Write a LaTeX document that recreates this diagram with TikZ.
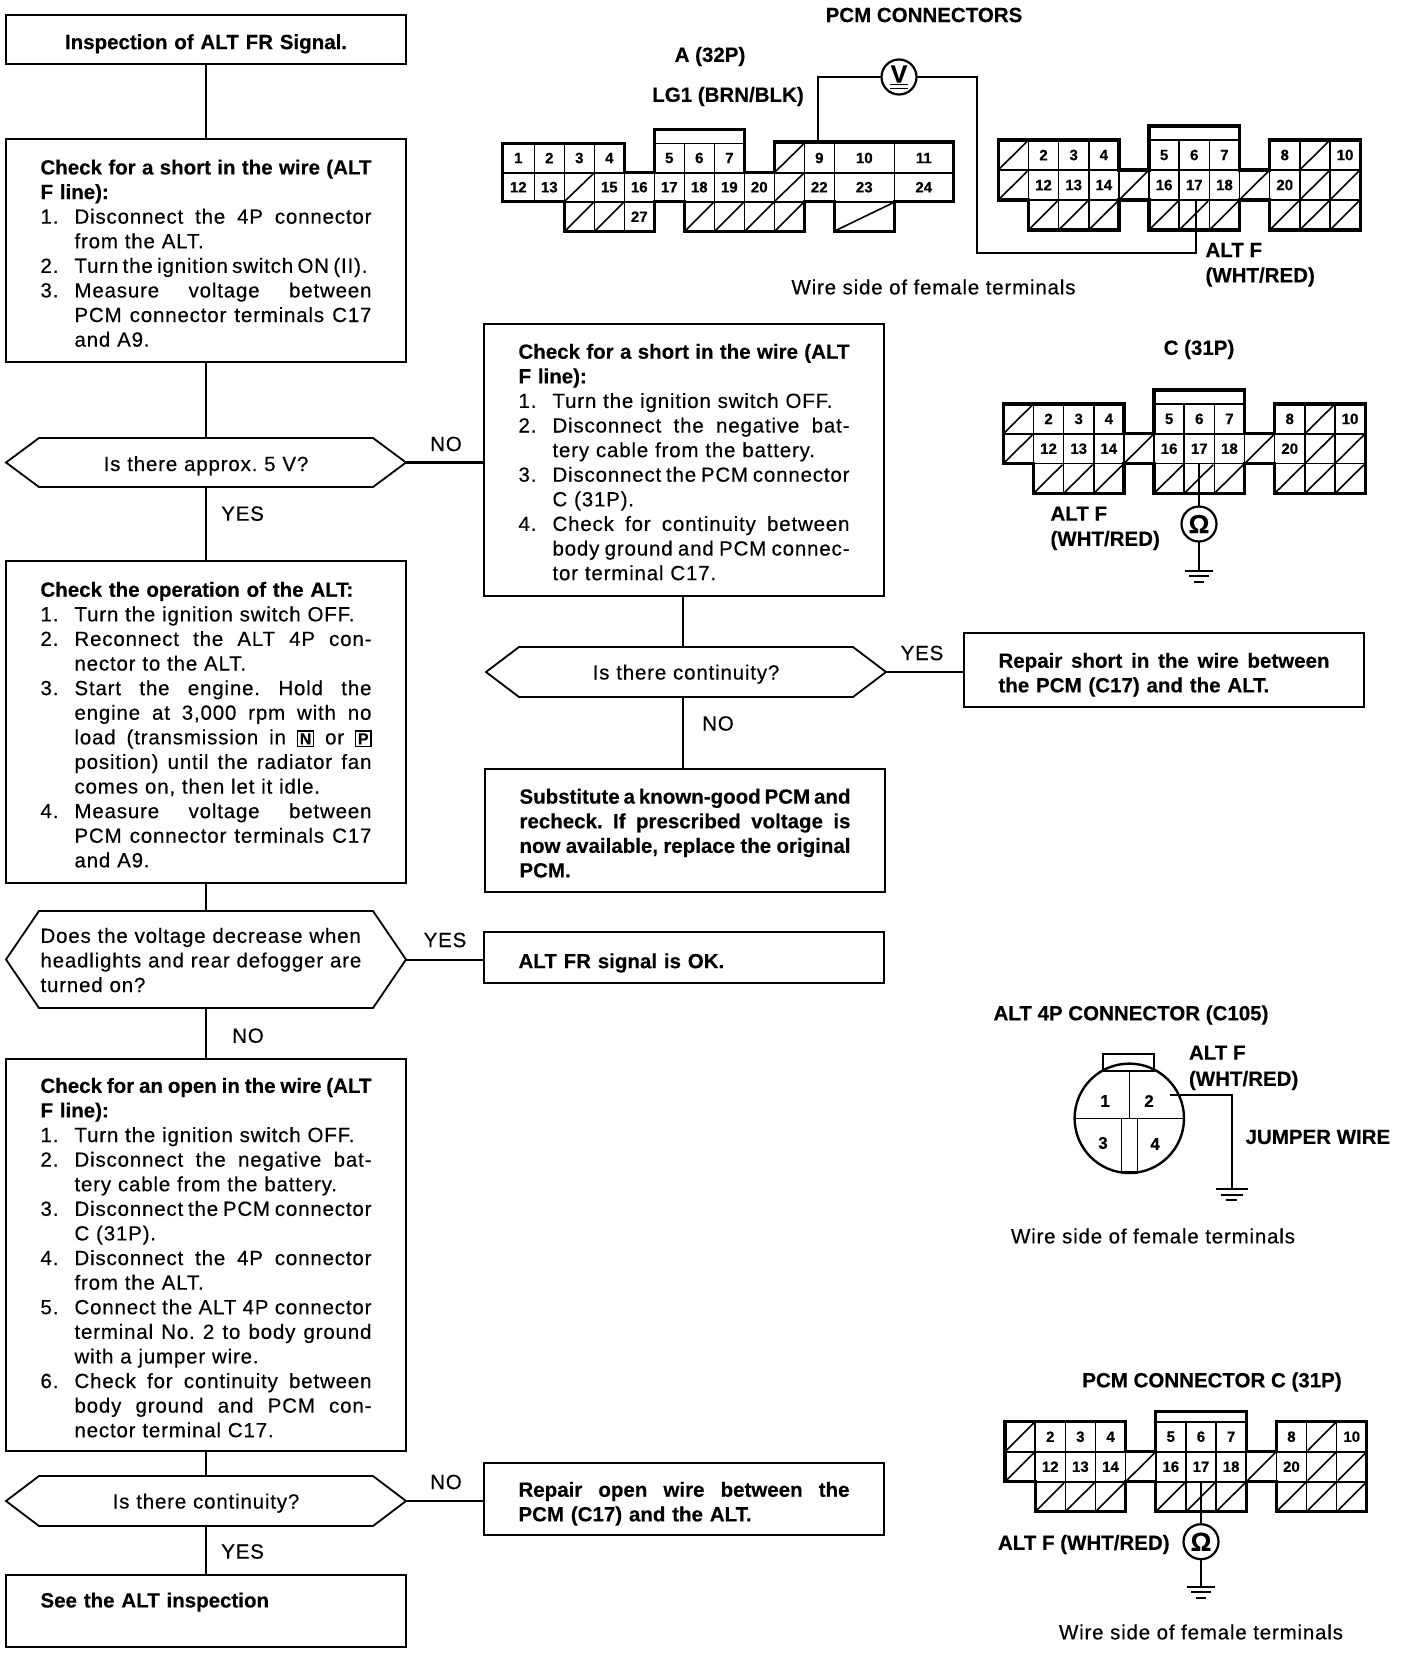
\documentclass[tikz,border=0pt]{standalone}
\usepackage{fontspec}
\setmainfont{Liberation Sans}[LetterSpace=4,FakeBold=0.35,BoldFeatures={LetterSpace=0,FakeBold=0.3}]
\usetikzlibrary{calc}
\newcommand{\fs}{\fontsize{20.5}{24.6}\selectfont\frenchspacing}
\newcommand{\justbox}[2]{\leavevmode\hbox to #1{\spaceskip=.278em plus 1fil minus .15em\xspaceskip=\spaceskip #2}}
\newcommand{\stj}[2]{\leavevmode\hbox to 34pt{#1\hss}\justbox{297pt}{#2}}
\newcommand{\stn}[2]{\leavevmode\hbox to 34pt{#1\hss}\hbox to 297pt{#2\hss}}
\newcommand{\cj}[1]{\leavevmode\hbox to 34pt{\hss}\justbox{297pt}{#1}}
\newcommand{\cn}[1]{\leavevmode\hbox to 34pt{\hss}\hbox to 297pt{#1\hss}}
\newcommand{\tj}[1]{\justbox{331pt}{#1}}
\newcommand{\gearbox}[1]{{\setlength{\fboxsep}{1.6pt}\setlength{\fboxrule}{1.3pt}\fbox{\fontsize{16}{16}\selectfont\bfseries #1}}}
\tikzset{
  every node/.style={font=\fs,inner sep=0pt,outer sep=0pt},
  flowbox/.style={draw,line width=2pt,minimum width=400pt,text width=331pt,align=left,inner xsep=34.5pt},
  boldbox/.style={flowbox,font=\fs\bfseries},
  hextext/.style={minimum width=400pt,text width=331pt,align=left,inner xsep=34.5pt},
  hexline/.style={line width=1.8pt,line join=miter},
  flowline/.style={line width=2pt},
  answer/.style={font=\fs},
  title/.style={font=\fs\bfseries},
  plain/.style={font=\fs},
  pinnum/.style={font=\fontsize{15}{15}\selectfont\bfseries},
  celledge/.style={line width=1.6pt},
  cellslash/.style={line width=1.6pt},
  shellline/.style={line width=3.2pt,line join=miter},
  wire/.style={line width=2pt},
  meter/.style={circle,draw,line width=2.2pt,minimum size=35pt,font=\fontsize{26}{26}\selectfont\bfseries},
  groundline/.style={line width=2pt},
  down/.style={text depth=0pt,text height=#1pt},
}
\newcommand{\hexout}[2]{\draw[hexline] (#1.west) -- ([xshift=#2pt]#1.north west) -- ([xshift=-#2pt]#1.north east) -- (#1.east) -- ([xshift=-#2pt]#1.south east) -- ([xshift=#2pt]#1.south west) -- cycle;}
\newcommand{\pcmC}[6]{%
\begin{scope}[shift={(#2,#3)},x=#5pt,y=-#6pt]
  \foreach \xc/\yc/\lab in {1/0/2,2/0/3,3/0/4,5/0/5,6/0/6,7/0/7,9/0/8,11/0/10,1/1/12,2/1/13,3/1/14,5/1/16,6/1/17,7/1/18,9/1/20}{
    \draw[celledge] (\xc,\yc) rectangle (\xc+1,\yc+1);
    \node[pinnum] (#1-\xc-\yc) at (\xc+.5,\yc+.5) {\lab};
  }
  \foreach \xc/\yc in {0/0,10/0,0/1,4/1,8/1,10/1,11/1,1/2,2/2,3/2,5/2,6/2,7/2,9/2,10/2,11/2}{
    \draw[celledge] (\xc,\yc) rectangle (\xc+1,\yc+1);
    \draw[cellslash] (\xc+.04,\yc+.96) -- (\xc+.96,\yc+.04);
  }
  \draw[shellline] (0,0) -- (4,0) -- (4,1) -- (5,1) -- (5,-#4) -- (8,-#4) -- (8,1) -- (9,1) -- (9,0) -- (12,0) -- (12,3) -- (9,3) -- (9,2) -- (8,2) -- (8,3) -- (5,3) -- (5,2) -- (4,2) -- (4,3) -- (1,3) -- (1,2) -- (0,2) -- cycle;
  \draw[celledge] (5,0) -- (8,0);
\end{scope}}
\newcommand{\groundsym}[2]{%
  \draw[groundline] ([xshift=-#2pt]#1) -- ([xshift=#2pt]#1);
  \draw[groundline] ($(#1)+(-#2*.7,5.5)$) -- ($(#1)+(#2*.7,5.5)$);
  \draw[groundline] ($(#1)+(-#2*.35,11)$) -- ($(#1)+(#2*.35,11)$);}
\begin{document}
\begin{tikzpicture}[x=1pt,y=-1pt]
\useasboundingbox (0,0) rectangle (1408,1654);
\fill[white] (0,0) rectangle (1408,1654);
% ---- left column
\node[boldbox,align=center,minimum height=49pt,down=19.2] (b1) at (206,39.5) {Inspection of ALT FR Signal.};
\node[flowbox,minimum height=223pt,text depth=167pt] (b2) at (206,250.5) {\textbf{\tj{Check for a short in the wire (ALT}}\\
\textbf{F line):}\\
\stj{1.}{Disconnect the 4P connector}\\
\cn{from the ALT.}\\
\leavevmode\hbox to 34pt{2.\hss}\justbox{293pt}{Turn the ignition switch ON (II).}\\
\stj{3.}{Measure voltage between}\\
\cj{PCM connector terminals C17}\\
\cn{and A9.}};
\node[hextext,minimum height=49pt,align=center,down=17] (d1) at (206,462.5) {Is there approx. 5 V?};
\hexout{d1}{33}
\node[flowbox,minimum height=322pt,text depth=265.4pt] (b3) at (206,722) {\textbf{Check the operation of the ALT:}\\
\stn{1.}{Turn the ignition switch OFF.}\\
\stj{2.}{Reconnect the ALT 4P con-}\\
\cn{nector to the ALT.}\\
\stj{3.}{Start the engine. Hold the}\\
\cj{engine at 3,000 rpm with no}\\
\cj{load (transmission in \gearbox{N} or \gearbox{P}}\\
\cj{position) until the radiator fan}\\
\cn{comes on, then let it idle.}\\
\stj{4.}{Measure voltage between}\\
\cj{PCM connector terminals C17}\\
\cn{and A9.}};
\node[hextext,minimum height=97pt,text depth=48.2pt] (d3) at (206,959.5) {Does the voltage decrease when\\headlights and rear defogger are\\turned on?};
\hexout{d3}{33}
\node[flowbox,minimum height=392pt,text depth=339.2pt] (b4) at (206,1255) {\textbf{\tj{Check for an open in the wire (ALT}}\\
\textbf{F line):}\\
\stn{1.}{Turn the ignition switch OFF.}\\
\stj{2.}{Disconnect the negative bat-}\\
\cn{tery cable from the battery.}\\
\stj{3.}{Disconnect the PCM connector}\\
\cn{C (31P).}\\
\stj{4.}{Disconnect the 4P connector}\\
\cn{from the ALT.}\\
\stj{5.}{Connect the ALT 4P connector}\\
\cj{terminal No. 2 to body ground}\\
\cn{with a jumper wire.}\\
\stj{6.}{Check for continuity between}\\
\cj{body ground and PCM con-}\\
\cn{nector terminal C17.}};
\node[hextext,minimum height=50pt,align=center,down=15] (d4) at (206,1501) {Is there continuity?};
\hexout{d4}{33}
\node[boldbox,minimum height=72pt,text depth=22pt] (b5) at (206,1611) {See the ALT inspection};
% ---- middle column
\node[flowbox,minimum height=272pt,text depth=217.4pt] (b6) at (684,460) {\textbf{\tj{Check for a short in the wire (ALT}}\\
\textbf{F line):}\\
\stn{1.}{Turn the ignition switch OFF.}\\
\stj{2.}{Disconnect the negative bat-}\\
\cn{tery cable from the battery.}\\
\stj{3.}{Disconnect the PCM connector}\\
\cn{C (31P).}\\
\stj{4.}{Check for continuity between}\\
\cj{body ground and PCM connec-}\\
\cn{tor terminal C17.}};
\node[hextext,minimum height=50pt,align=center,down=15] (d2) at (686,672) {Is there continuity?};
\hexout{d2}{33}
\node[boldbox,minimum height=74pt,text depth=19.4pt] (r1) at (1164,670) {\tj{Repair short in the wire between}\\the PCM (C17) and the ALT.};
\node[boldbox,minimum height=123pt,text depth=68.6pt] (s1) at (685,830.5) {\tj{Substitute a known-good PCM and}\\\tj{recheck. If prescribed voltage is}\\\tj{now available, replace the original}\\PCM.};
\node[boldbox,minimum height=51pt,down=21.4] (ok) at (684,957.5) {ALT FR signal is OK.};
\node[boldbox,minimum height=72pt,text depth=19.4pt] (r2) at (684,1499) {\tj{Repair open wire between the}\\PCM (C17) and the ALT.};
% ---- flow connectors
\draw[flowline] (b1) -- (b2);
\draw[flowline] (b2) -- (d1);
\draw[flowline] (d1) -- (b3);
\draw[flowline] (b3) -- (d3);
\draw[flowline] (d3) -- (b4);
\draw[flowline] (b4) -- (d4);
\draw[flowline] (d4) -- (b5);
\draw[flowline,line width=3.2pt] (d1.east) -- (d1.east -| b6.west);
\draw[flowline] (d3.east) -- (d3.east -| ok.west);
\draw[flowline] (d4.east) -- (d4.east -| r2.west);
\draw[flowline] ([xshift=-1.5pt]b6.south) -- ([xshift=-1.5pt]b6.south |- d2.north);
\draw[flowline] ([xshift=-1.5pt]d2.south -| b6.south) -- ([xshift=-1.5pt]s1.north -| b6.south);
\draw[flowline] (d2.east) -- (d2.east -| r1.west);
% ---- answers
\node[answer] (a1) at (446,444) {NO};
\node[answer] (a2) at (242.6,513.6) {YES};
\node[answer] (a3) at (445,940) {YES};
\node[answer] (a4) at (248,1035.7) {NO};
\node[answer] (a5) at (446,1482) {NO};
\node[answer] (a6) at (242.6,1551.5) {YES};
\node[answer] (a7) at (922,653) {YES};
\node[answer] (a8) at (718,723.5) {NO};
% ---- connector A (32P)
\begin{scope}[shift={(502.3,143.3)}]
  \foreach \xc/\xd/\yc/\yd/\lab in {0/32/0/29.4/1,32/62/0/29.4/2,62/92/0/29.4/3,92/122/0/29.4/4,152/182/0/29.4/5,182/212/0/29.4/6,212/242/0/29.4/7,302/332/0/29.4/9,332/392/0/29.4/10,392/451/0/29.4/11,
    0/32/29.4/58.4/12,32/62/29.4/58.4/13,92/122/29.4/58.4/15,122/152/29.4/58.4/16,152/182/29.4/58.4/17,182/212/29.4/58.4/18,212/242/29.4/58.4/19,242/272/29.4/58.4/20,302/332/29.4/58.4/22,332/392/29.4/58.4/23,392/451/29.4/58.4/24,
    122/152/58.4/88.4/27}{
    \draw[celledge] (\xc,\yc) rectangle (\xd,\yd);
    \node[pinnum] (pa-\lab) at ({(\xc+\xd)/2},{(\yc+\yd)/2}) {\lab};
  }
  \foreach \xc/\xd/\yc/\yd in {272/302/0/29.4,62/92/29.4/58.4,272/302/29.4/58.4,62/92/58.4/88.4,92/122/58.4/88.4,182/212/58.4/88.4,212/242/58.4/88.4,242/272/58.4/88.4,272/302/58.4/88.4,332/392/58.4/88.4}{
    \draw[celledge] (\xc,\yc) rectangle (\xd,\yd);
    \draw[cellslash] (\xc+1,\yd-1) -- (\xd-1,\yc+1);
  }
  \draw[shellline] (0,0) -- (122,0) -- (122,29.4) -- (152,29.4) -- (152,-14) -- (242,-14) -- (242,29.4) -- (272,29.4) -- (272,-1.5) -- (451,-1.5) -- (451,58.4) -- (392,58.4) -- (392,88.4) -- (332,88.4) -- (332,58.4) -- (302,58.4) -- (302,88.4) -- (182,88.4) -- (182,58.4) -- (152,58.4) -- (152,88.4) -- (62,88.4) -- (62,58.4) -- (0,58.4) -- cycle;
  \draw[celledge] (152,0) -- (242,0);
  \coordinate (a9) at (316,-1.5);
\end{scope}
\pcmC{ca}{998.3}{140}{.47}{30.15}{30}
\pcmC{cb}{1003.3}{404}{.47}{30.15}{29.8}
\pcmC{cc}{1005}{1421.7}{.35}{30.15}{30}
% ---- V meter and wires
\node[meter,font=\fontsize{25}{25}\selectfont\bfseries,text depth=6pt] (vm) at (899,77) {V};
\draw[line width=1.6pt] (890,84.5) -- (908,84.5);
\draw[line width=1.6pt] (890,88.5) -- (908,88.5);
\coordinate (vup) at (a9 |- vm.west);
\coordinate (wr1) at (977,77);
\coordinate (wr2) at (977,253);
\coordinate (wr3) at (1196,253);
\coordinate (ca-17) at (1196,200);
\draw[wire] (a9) -- (vup) -- (vm.west);
\draw[wire] (vm.east) -- (wr1) -- (wr2) -- (wr3) -- (ca-17);
% ---- ohm meters
\node[meter] (om1) at (1199,524) {Ω};
\coordinate (gnd1) at (1199,570.7);
\coordinate (cb-17) at (1199,463.3);
\draw[wire] (cb-17) -- (om1.north);
\draw[wire] (om1.south) -- (gnd1);
\groundsym{gnd1}{14}
\node[meter] (om2) at (1201,1541.7) {Ω};
\coordinate (gnd2) at (1201,1586.7);
\coordinate (cc-17) at (1201,1481.7);
\draw[wire] (cc-17) -- (om2.north);
\draw[wire] (om2.south) -- (gnd2);
\groundsym{gnd2}{14}
% ---- ALT 4P connector
\draw[line width=2.4pt] (1129.3,1118.3) circle (54.7);
\draw[wire] (1102.7,1072) -- (1102.7,1054.3) -- (1154.3,1054.3) -- (1154.3,1072);
\draw[line width=1.4pt] (1102.7,1071) -- (1154.3,1071);
\draw[line width=1.4pt] (1129.3,1071) -- (1129.3,1118.3);
\draw[line width=1.4pt] (1074.6,1118.3) -- (1184,1118.3);
\draw[line width=1.4pt] (1121.7,1118.3) -- (1121.7,1172.7);
\draw[line width=1.4pt] (1137.7,1118.3) -- (1137.7,1172.7);
\draw[line width=3pt] (1121.7,1172.7) -- (1137.7,1172.7);
\node[pinnum,font=\fontsize{17}{17}\selectfont\bfseries] (p1) at (1105,1101) {1};
\node[pinnum,font=\fontsize{17}{17}\selectfont\bfseries] (p2) at (1149,1101) {2};
\node[pinnum,font=\fontsize{17}{17}\selectfont\bfseries] (p3) at (1103,1143) {3};
\node[pinnum,font=\fontsize{17}{17}\selectfont\bfseries] (p4) at (1155,1144) {4};
\coordinate (jw0) at (1170,1095);
\coordinate (jw1) at (1231.7,1095);
\coordinate (gnd3) at (1231.7,1189.3);
\draw[wire] (jw0) -- (jw1) -- (gnd3);
\groundsym{gnd3}{16}
% ---- labels
\node[title] (t1) at (924,15) {PCM CONNECTORS};
\node[title] (t2) at (710,56.5) {A (32P)};
\node[title] (t3) at (728,96.5) {LG1 (BRN/BLK)};
\node[title,anchor=west] (t4) at (1205.5,250) {ALT F};
\node[title,anchor=west] (t5) at (1205.5,277) {(WHT/RED)};
\node[plain] (t6) at (933.5,287) {Wire side of female terminals};
\node[title] (t7) at (1199,349.5) {C (31P)};
\node[title,anchor=west] (t8) at (1050.5,513.6) {ALT F};
\node[title,anchor=west] (t9) at (1050.5,540.5) {(WHT/RED)};
\node[title] (t10) at (1131,1015) {ALT 4P CONNECTOR (C105)};
\node[title,anchor=west] (t11) at (1189,1052.6) {ALT F};
\node[title,anchor=west] (t12) at (1189,1080.5) {(WHT/RED)};
\node[title,anchor=west] (t13) at (1245.6,1137) {JUMPER WIRE};
\node[plain] (t14) at (1153,1236) {Wire side of female terminals};
\node[title] (t15) at (1212,1382) {PCM CONNECTOR C (31P)};
\node[title,anchor=west] (t16) at (998,1544.5) {ALT F (WHT/RED)};
\node[plain] (t17) at (1201,1632) {Wire side of female terminals};
\end{tikzpicture}
\end{document}
